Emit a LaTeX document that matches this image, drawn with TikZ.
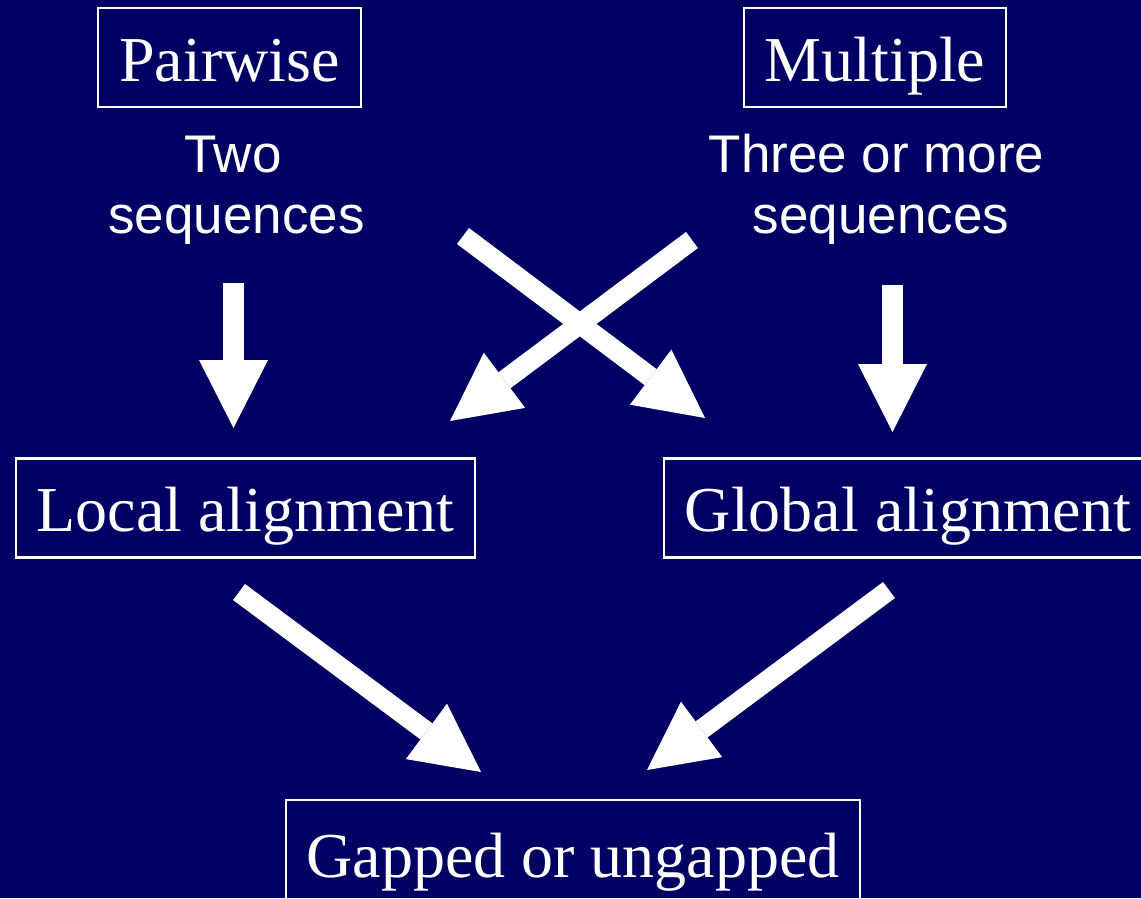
\documentclass[tikz,border=0pt]{standalone}
\usepackage{fontspec}
\setmainfont{Liberation Serif}
\newfontfamily\sansfont{Liberation Sans}
\usetikzlibrary{arrows.meta}
\definecolor{bg}{RGB}{0,0,100}
\tikzset{
  box/.style={draw=white, line width=2.3pt, inner sep=0pt, text=white,
    font=\fontsize{64}{70}\selectfont, minimum height=99pt, text depth=0pt},
  note/.style={anchor=base, inner sep=0pt, text=white, font=\sansfont\fontsize{53}{61}\selectfont},
  blockarrow/.style={white, line width=20pt,
    -{Triangle[length=68pt,width=69pt,line width=0pt]}},
  vblockarrow/.style={white, line width=21pt,
    -{Triangle[length=68pt,width=69pt,line width=0pt]}}
}
\begin{document}
\begin{tikzpicture}[x=1pt,y=-1pt]
\path[use as bounding box, fill=bg] (0,0) rectangle (1141,898);
\clip (0,0) rectangle (1141,898);
% boxes
\node[box, minimum width=263pt, text height=47pt] (pw) at (229.5,57.5) {Pairwise};
\node[box, minimum width=262pt, text height=47pt] (mu) at (875,57.5) {Multiple};
\node[box, minimum width=459pt, text height=47pt] (la) at (245.5,508) {Local alignment};
\node[box, minimum width=488pt, text height=47pt] (ga) at (908,508) {Global alignment};
\node[box, minimum width=574pt, minimum height=100pt, text height=54pt] (gu) at (573,850) {Gapped or ungapped};
% notes
\node[note] (two) at (233,172) {Two};
\node[note] (seqa) at (236.5,233) {sequences};
\node[note] (three) at (876.5,172) {Three or more};
\node[note] (seqb) at (881,233) {sequences};
% arrow end points
\coordinate (v1s) at (233.5,283); \coordinate (v1e) at (233.5,428);
\coordinate (v2s) at (892.5,285); \coordinate (v2e) at (892.5,432);
\coordinate (x1s) at (463,236);   \coordinate (x1e) at (705,418);
\coordinate (x2s) at (692,240);   \coordinate (x2e) at (450,421);
\coordinate (b1s) at (239,592);   \coordinate (b1e) at (481,772);
\coordinate (b2s) at (889,590);   \coordinate (b2e) at (647,770);
\draw[vblockarrow] (v1s) -- (v1e);
\draw[vblockarrow] (v2s) -- (v2e);
\draw[blockarrow] (x1s) -- (x1e);
\draw[blockarrow] (x2s) -- (x2e);
\draw[blockarrow] (b1s) -- (b1e);
\draw[blockarrow] (b2s) -- (b2e);
\end{tikzpicture}
\end{document}
